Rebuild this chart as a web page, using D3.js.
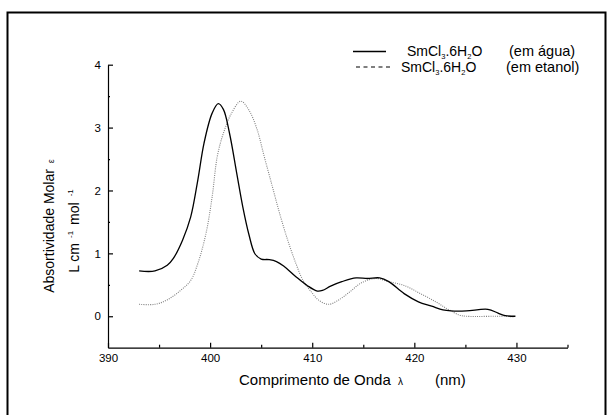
<!DOCTYPE html>
<html>
<head>
<meta charset="utf-8">
<script src="https://cdn.jsdelivr.net/npm/d3@7"></script>
<style>
html,body{margin:0;padding:0;background:#fff;}
svg{display:block;}
text{font-family:"Liberation Sans",Arial,sans-serif;fill:#000;}
</style>
</head>
<body>
<svg id="chart" width="611" height="415"></svg>
<script>
// ---- data ----
const aguaWavelength = [393.05,394.6,395.8,396.4,397.3,398.1,398.8,399.4,400.2,400.8,401.3,401.9,402.6,403.2,403.8,404.4,405.0,405.8,406.5,407.2,408.4,409.5,410.5,411.0,411.8,412.9,414.3,415.4,416.6,417.5,419.0,420.4,421.7,422.8,423.6,425.1,427.2,428.2,428.9,429.9];
const aguaValues     = [0.72,0.72,0.81,0.92,1.21,1.58,2.17,2.75,3.23,3.38,3.29,2.91,2.28,1.74,1.30,0.99,0.91,0.90,0.87,0.80,0.63,0.49,0.40,0.41,0.48,0.55,0.61,0.60,0.61,0.55,0.36,0.23,0.16,0.10,0.085,0.085,0.11,0.05,0.01,0.0];
const etanolWavelength = [393.05,394.6,395.8,397.1,398.1,398.8,399.6,400.2,400.7,401.3,402.1,403.0,403.8,404.6,405.3,406.1,406.8,407.6,408.4,409.1,409.9,410.6,411.6,412.6,413.7,414.8,416.2,417.5,419.0,420.6,422.1,423.2,424.4,425.1,428.9,429.7];
const etanolValues     = [0.19,0.19,0.26,0.41,0.57,0.84,1.32,1.90,2.54,2.91,3.23,3.42,3.28,2.97,2.54,2.06,1.64,1.21,0.84,0.57,0.39,0.26,0.19,0.26,0.39,0.53,0.60,0.55,0.49,0.36,0.23,0.12,0.02,0.0,0.0,-0.01];
const xTicks = [390,400,410,420,430];
const xMinorTicks = [395,405,415,425,435];
const yTicks = [0,1,2,3,4];
const yMinorTicks = [0.5,1.5,2.5,3.5];
const xDomain = [390,435];
const yDomain = [-0.5,4];

// ---- layout ----
const svg = d3.select("#chart");
const mLeft = 108, mRight = 567.5, mTop = 64.7, mBottom = 347.7;
const x = d3.scaleLinear().domain(xDomain).range([mLeft,mRight]);
const y = d3.scaleLinear().domain(yDomain).range([mBottom,mTop]);

// frame
svg.append("path")
  .attr("d", `M7.5,415 L7.5,12.5 L605.5,12.5 L605.5,415`)
  .attr("fill","none").attr("stroke","#000").attr("stroke-width",2);

// axes
const fmt = d3.format("d");
svg.append("g").attr("transform",`translate(0,${mBottom})`)
  .call(d3.axisBottom(x).tickValues(xTicks).tickFormat(fmt).tickSizeInner(-5).tickSizeOuter(0).tickPadding(6));
const xMinor = svg.append("g").attr("transform",`translate(0,${mBottom})`)
  .call(d3.axisBottom(x).tickValues(xMinorTicks).tickSizeInner(-3).tickSizeOuter(0).tickFormat(""));
xMinor.select(".domain").remove();
svg.append("g").attr("transform",`translate(${mLeft},0)`)
  .call(d3.axisLeft(y).tickValues(yTicks).tickFormat(fmt).tickSizeInner(-5).tickSizeOuter(0).tickPadding(7));
const yMinor = svg.append("g").attr("transform",`translate(${mLeft},0)`)
  .call(d3.axisLeft(y).tickValues(yMinorTicks).tickSizeInner(-2).tickSizeOuter(0).tickFormat(""));
yMinor.select(".domain").remove();
svg.selectAll(".tick text").style("font-family","Liberation Sans, Arial, sans-serif").style("font-size","11.5px");
svg.selectAll(".domain, .tick line").attr("stroke","#000").attr("stroke-width",1.2);

// curves
const line = d3.line().x(d=>x(d[0])).y(d=>y(d[1])).curve(d3.curveCatmullRom.alpha(0.5));
svg.append("path")
  .datum(etanolWavelength.map((w,i)=>[w,etanolValues[i]]))
  .attr("d",line).attr("fill","none").attr("stroke","#808080").attr("stroke-width",1.1)
  .attr("stroke-dasharray","1,1.2");
svg.append("path")
  .datum(aguaWavelength.map((w,i)=>[w,aguaValues[i]]))
  .attr("d",line).attr("fill","none").attr("stroke","#000").attr("stroke-width",1.3);

// legend
const lg = svg.append("g");
lg.append("line").attr("x1",353).attr("x2",386).attr("y1",51.5).attr("y2",51.5).attr("stroke","#000").attr("stroke-width",1.3);
lg.append("line").attr("x1",356).attr("x2",390).attr("y1",67).attr("y2",67).attr("stroke","#000").attr("stroke-width",1.1).attr("stroke-dasharray","4,3.5");
function formula(xPos, yPos){
  const tx = lg.append("text").attr("x",xPos).attr("y",yPos).style("font-size","14px");
  tx.append("tspan").text("SmCl");
  tx.append("tspan").text("3").attr("dy",2.5).style("font-size","7.5px");
  tx.append("tspan").text(".6H").attr("dy",-2.5);
  tx.append("tspan").text("2").attr("dy",2.5).style("font-size","7.5px");
  tx.append("tspan").text("O").attr("dy",-2.5);
}
formula(407,56);
formula(401,72);
lg.append("text").attr("x",509).attr("y",56).style("font-size","14.5px").text("(em água)");
lg.append("text").attr("x",506).attr("y",72).style("font-size","14.5px").text("(em etanol)");

// x title
const xt = svg.append("text").attr("x",239).attr("y",385).style("font-size","15px");
xt.append("tspan").text("Comprimento de Onda ");
xt.append("tspan").text("λ").style("font-size","10px").attr("dx",3);
xt.append("tspan").text("(nm)").attr("x",435);

// y title
const yt1 = svg.append("text").attr("transform","translate(54,226) rotate(-90)").attr("text-anchor","middle").style("font-size","14px");
yt1.append("tspan").text("Absortividade Molar ");
yt1.append("tspan").text("ε").style("font-size","9px").attr("dx",2);
const yt2 = svg.append("text").attr("transform","translate(79,231) rotate(-90)").attr("text-anchor","middle").style("font-size","14px");
yt2.append("tspan").text("L cm");
yt2.append("tspan").text("-1").attr("dy",-6).attr("dx",5).style("font-size","8px");
yt2.append("tspan").text("mol").attr("dy",6).attr("dx",6);
yt2.append("tspan").text("-1").attr("dy",-6).attr("dx",6).style("font-size","8px");
</script>
</body>
</html>
